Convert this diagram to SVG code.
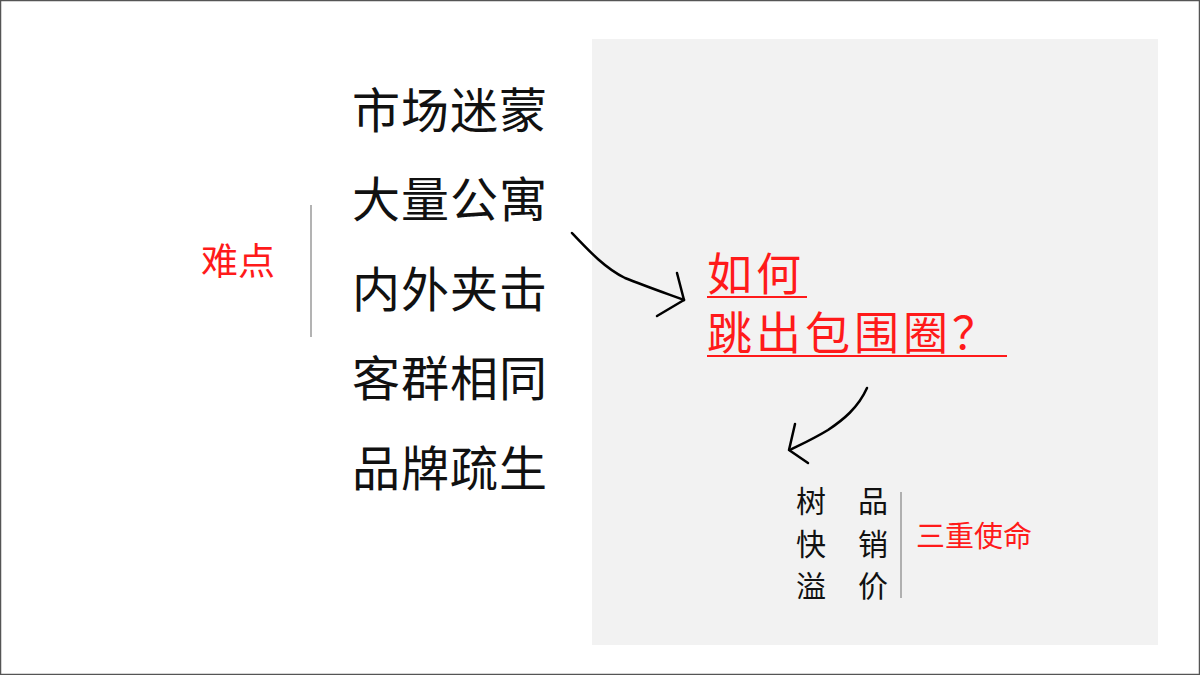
<svg xmlns="http://www.w3.org/2000/svg" width="1200" height="675" viewBox="0 0 1200 675">
<style>
.k{font-family:"Noto Sans CJK SC","Noto Sans",sans-serif;fill:#111}
.r{font-family:"Noto Sans CJK SC","Noto Sans",sans-serif;fill:#ff1a1a}
.big{font-size:48px;letter-spacing:1px}
.q{font-size:45px;letter-spacing:4px}
.sep{stroke:#9a9a9a;stroke-width:1.5}
.arr{fill:none;stroke:#000;stroke-width:2.5;stroke-linecap:round;stroke-linejoin:round}
</style>
<rect x="0.5" y="0.5" width="1199" height="674" fill="#fff" stroke="#555" stroke-width="1.5"/>
<rect x="592" y="39" width="566" height="606" fill="#f2f2f2"/>
<g id="difficulty-list">
<text class="k big" x="352" y="128">市场迷蒙</text>
<text class="k big" x="352" y="217">大量公寓</text>
<text class="k big" x="352" y="307">内外夹击</text>
<text class="k big" x="352" y="396">客群相同</text>
<text class="k big" x="352" y="486">品牌疏生</text>
</g>
<g id="difficulty-label">
<text class="r" x="201" y="275" font-size="37">难点</text>
<line class="sep" x1="311" y1="205" x2="311" y2="337"/>
</g>
<g id="question">
<text class="r q" x="707" y="291">如何</text>
<text class="r q" x="707" y="350">跳出包围圈？</text>
<line x1="707" y1="297" x2="807" y2="297" stroke="#ff1a1a" stroke-width="2"/>
<line x1="707" y1="356" x2="1007" y2="356" stroke="#ff1a1a" stroke-width="2"/>
</g>
<g id="missions">
<text class="k" x="796" y="512" font-size="30">树</text>
<text class="k" x="796" y="555" font-size="30">快</text>
<text class="k" x="796" y="597" font-size="30">溢</text>
<text class="k" x="858" y="512" font-size="30">品</text>
<text class="k" x="858" y="555" font-size="30">销</text>
<text class="k" x="858" y="597" font-size="30">价</text>
<line class="sep" x1="901" y1="492" x2="901" y2="598"/>
<text class="r" x="916" y="547" font-size="29">三重使命</text>
</g>
<g id="connectors">
<path class="arr" d="M572,233 C590,252 605,268 625,278 C645,286 665,293 684,300"/>
<path class="arr" d="M677,273 L684,300 L657,316"/>
<path class="arr" d="M867,388 C858,408 843,420 828,430 C815,438 800,445 790,450"/>
<path class="arr" d="M795,424 L789,450 L808,463"/>
</g>
</svg>
